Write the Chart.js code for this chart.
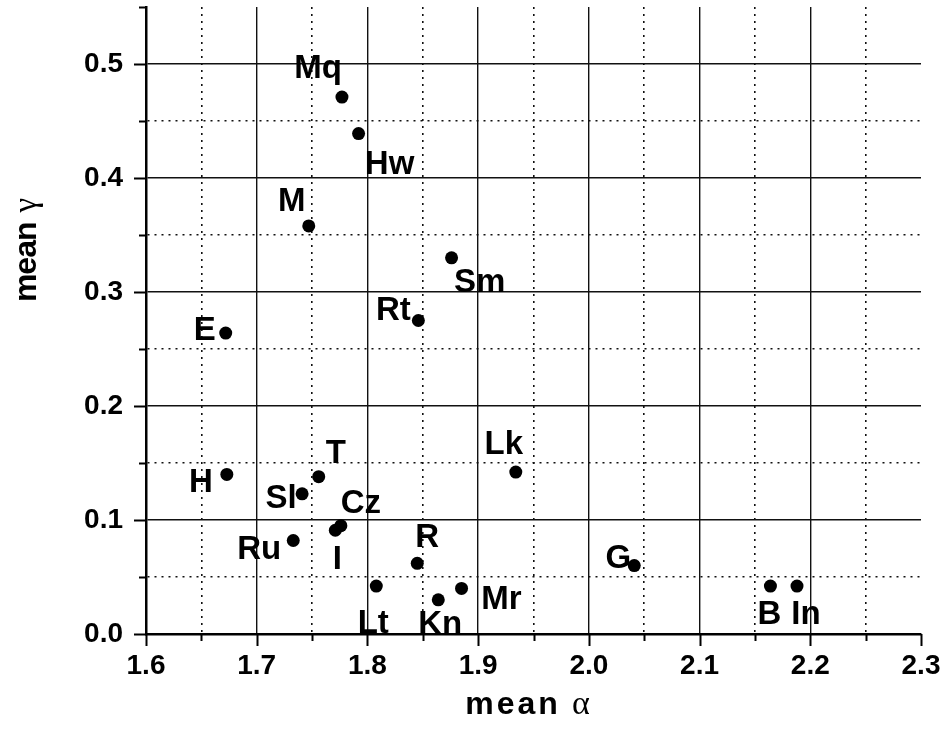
<!DOCTYPE html>
<html>
<head>
<meta charset="utf-8">
<title>mean alpha / mean gamma</title>
<script src="https://cdn.jsdelivr.net/npm/chart.js@4.4.0/dist/chart.umd.min.js"></script>
<style>
  html, body { margin: 0; padding: 0; background: #fff; }
  #wrap { width: 944px; height: 742px; }
</style>
</head>
<body>
<div id="wrap"><canvas id="scatter" width="944" height="742"></canvas></div>
<script>
// Site codes with their mean alpha / mean gamma
const siteLabels = ["Mq", "Hw", "M", "Sm", "Rt", "E", "Lk", "T", "H", "Sl",
                    "Cz", "I", "Ru", "R", "G", "Lt", "Mr", "Kn", "B", "In"];
const meanAlpha = [1.777, 1.792, 1.747, 1.876, 1.846, 1.672, 1.934, 1.756, 1.673, 1.741,
                   1.776, 1.771, 1.733, 1.845, 2.041, 1.808, 1.885, 1.864, 2.164, 2.188];
const meanGamma = [0.471, 0.439, 0.358, 0.330, 0.275, 0.264, 0.142, 0.138, 0.140, 0.123,
                   0.095, 0.091, 0.082, 0.062, 0.060, 0.042, 0.040, 0.030, 0.042, 0.042];

const xTickLabels = ["1.6", "1.7", "1.8", "1.9", "2.0", "2.1", "2.2", "2.3"];
const yTickLabels = ["0.0", "0.1", "0.2", "0.3", "0.4", "0.5"];

// where each site code sits relative to its dot (px, to text centre / baseline)
const labelOffsets = [[-24, -19], [31, 40], [-17, -15], [28, 34], [-25, -1], [-21, 7], [-12, -18],
                      [17, -14], [-26, 18], [-21, 14], [20, -13], [2, 39], [-34, 18], [10, -16],
                      [-16, 2], [-3, 47], [40, 21], [2, 34], [-1, 38], [9, 38]];

const SANS = "'Liberation Sans', Arial, sans-serif";
const SERIF = "'Liberation Serif', 'Times New Roman', serif";

const isMajor = v => Math.abs(v * 10 - Math.round(v * 10)) < 1e-6;
const near = (a, b) => Math.abs(a - b) < 1e-6;

function tickText(labels, first) {
    return v => isMajor(v) ? (labels[Math.round((v - first) * 10)] || "") : "";
}

// short outward tick marks, long for 0.1 steps, short for 0.05 steps
const tickMarks = {
    id: "tickMarks",
    afterDraw(chart) {
        const { ctx, scales: { x, y }, chartArea } = chart;
        ctx.save();
        ctx.strokeStyle = "#000";
        ctx.lineWidth = 2;
        ctx.beginPath();
        x.ticks.forEach(t => {
            const px = Math.round(x.getPixelForValue(t.value)) + 0.5;
            const len = isMajor(t.value) ? 12 : 7;
            ctx.moveTo(px, chartArea.bottom);
            ctx.lineTo(px, chartArea.bottom + len);
        });
        y.ticks.forEach(t => {
            const py = Math.round(y.getPixelForValue(t.value)) + 0.5;
            const len = isMajor(t.value) ? 12 : 7;
            ctx.moveTo(chartArea.left, py);
            ctx.lineTo(chartArea.left - len, py);
        });
        ctx.stroke();
        ctx.restore();
    }
};

function drawParts(ctx, parts, x, y, rot) {
    ctx.save();
    ctx.translate(x, y);
    ctx.rotate(rot);
    ctx.textAlign = "left";
    ctx.textBaseline = "alphabetic";
    ctx.fillStyle = "#000";
    let total = 0;
    parts.forEach(p => {
        ctx.font = p.font;
        ctx.letterSpacing = (p.spacing || 0) + "px";
        p.w = ctx.measureText(p.text).width + (p.gap || 0);
        total += p.w;
    });
    let cx = -total / 2;
    parts.forEach(p => {
        ctx.font = p.font;
        ctx.letterSpacing = (p.spacing || 0) + "px";
        ctx.fillText(p.text, cx, 0);
        cx += p.w;
    });
    ctx.restore();
}

// axis titles: bold "mean" followed by a plain greek letter
const axisTitles = {
    id: "axisTitles",
    afterDraw(chart) {
        const { ctx, chartArea } = chart;
        drawParts(ctx, [
            { text: "mean", font: "bold 32px " + SANS, spacing: 3, gap: 11 },
            { text: "α", font: "34px " + SERIF }
        ], (chartArea.left + chartArea.right) / 2 - 6, chartArea.bottom + 80, 0);
        drawParts(ctx, [
            { text: "mean", font: "bold 32px " + SANS, spacing: -1, gap: 10 },
            { text: "γ", font: "33px " + SERIF }
        ], 36, chartArea.top + 243, -Math.PI / 2);
    }
};

// site codes next to their dots
const siteNames = {
    id: "siteNames",
    afterDatasetsDraw(chart) {
        const { ctx } = chart;
        const meta = chart.getDatasetMeta(0);
        ctx.save();
        ctx.font = "bold 33px " + SANS;
        ctx.fillStyle = "#000";
        ctx.textAlign = "center";
        ctx.textBaseline = "alphabetic";
        meta.data.forEach((pt, i) => {
            const [dx, dy] = labelOffsets[i];
            ctx.fillText(siteLabels[i], pt.x + dx, pt.y + dy);
        });
        ctx.restore();
    }
};

const gridColor = edge => ctx => (ctx.tick && near(ctx.tick.value, edge)) ? "rgba(0,0,0,0)" : "#111";
const gridDash = ctx => (ctx.tick && !isMajor(ctx.tick.value)) ? [2, 5] : [];
const gridWidth = ctx => (ctx.tick && !isMajor(ctx.tick.value)) ? 1.6 : 1.4;

new Chart(document.getElementById("scatter"), {
    type: "scatter",
    data: {
        datasets: [{
            data: meanAlpha.map((a, i) => ({ x: a, y: meanGamma[i] })),
            backgroundColor: "#000",
            borderWidth: 0,
            pointRadius: 6.5,
            pointHoverRadius: 6.5
        }]
    },
    options: {
        responsive: false,
        animation: false,
        events: [],
        layout: { padding: { left: 0, top: 7, right: 23, bottom: 0 } },
        plugins: { legend: { display: false }, tooltip: { enabled: false } },
        scales: {
            x: {
                type: "linear",
                min: 1.6,
                max: 2.3,
                afterFit(s) { s.height = 108; s.paddingLeft = 0; s.paddingRight = 0; },
                ticks: {
                    stepSize: 0.05,
                    autoSkip: false,
                    maxRotation: 0,
                    padding: 15,
                    color: "#000",
                    font: { family: SANS, size: 28, weight: "bold" },
                    callback: tickText(xTickLabels, 1.6)
                },
                grid: { drawTicks: false, color: gridColor(2.3), lineWidth: gridWidth },
                border: { display: true, color: "#000", width: 2.5, dash: gridDash }
            },
            y: {
                type: "linear",
                min: 0,
                max: 0.55,
                afterFit(s) { s.width = 146; s.paddingTop = 0; s.paddingBottom = 0; },
                ticks: {
                    stepSize: 0.05,
                    autoSkip: false,
                    padding: 23,
                    color: "#000",
                    font: { family: SANS, size: 28, weight: "bold" },
                    callback: tickText(yTickLabels, 0)
                },
                grid: { drawTicks: false, color: gridColor(0.55), lineWidth: gridWidth },
                border: { display: true, color: "#000", width: 2.5, dash: gridDash }
            }
        }
    },
    plugins: [tickMarks, axisTitles, siteNames]
});
</script>
</body>
</html>
